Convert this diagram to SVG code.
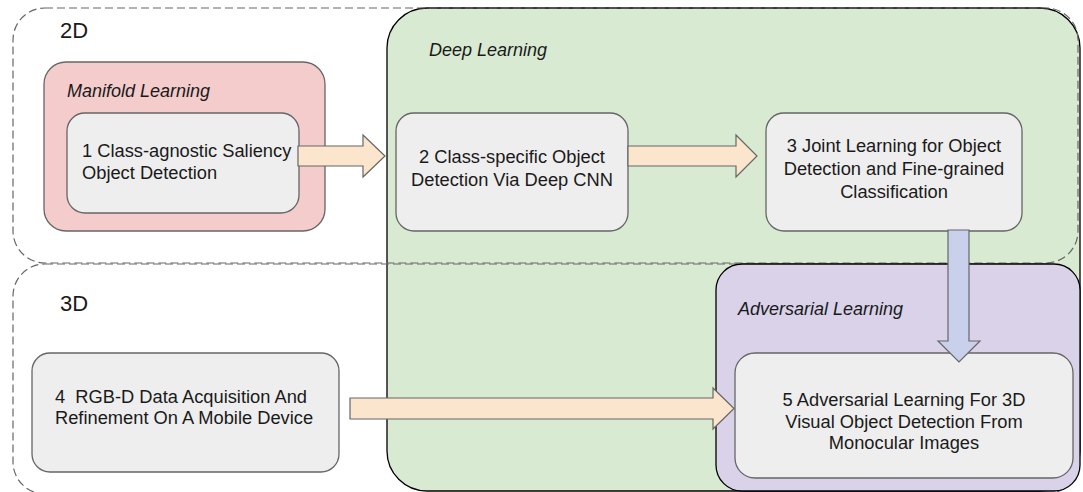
<svg xmlns="http://www.w3.org/2000/svg" width="1083" height="492" viewBox="0 0 1083 492">
  <style>
    .zone { fill: none; stroke: #666666; stroke-width: 1.2; stroke-dasharray: 8 4; }
    .group { stroke: #000000; stroke-width: 1.3; }
    .node { fill: #eeeeee; stroke: #666666; stroke-width: 1.3; }
    .flow { fill: #fce5cd; stroke: #666666; stroke-width: 1.2; }
    .flow-down { fill: #c9d0ec; stroke: #666666; stroke-width: 1.2; }
    text { font-family: "Liberation Sans", Arial, sans-serif; fill: #1a1a1a; }
    .t { font-size: 18.3px; }
    .c { text-anchor: middle; }
    .lbl { font-size: 18px; font-style: italic; }
    .dim { font-size: 22px; }
  </style>

  <!-- Deep Learning region -->
  <g id="deep-learning">
    <rect class="group" x="387" y="8" width="693" height="483" rx="40" fill="#d9ead3"/>
    <text class="lbl" x="429" y="56">Deep Learning</text>
  </g>

  <!-- 2D / 3D dashed zones -->
  <g id="zone-2d">
    <rect class="zone" x="13" y="8" width="1065" height="255" rx="32"/>
    <text class="dim" x="60" y="38">2D</text>
  </g>
  <g id="zone-3d">
    <rect class="zone" x="13" y="264" width="1065" height="230" rx="32"/>
    <text class="dim" x="60" y="311">3D</text>
  </g>

  <!-- Adversarial Learning region -->
  <g id="adversarial-learning">
    <rect class="group" x="716" y="264" width="364" height="227" rx="26" fill="#d9d2e9"/>
    <text class="lbl" x="738" y="315">Adversarial Learning</text>
  </g>

  <!-- Manifold Learning region -->
  <g id="manifold-learning">
    <rect x="44" y="62" width="281" height="169" rx="22" fill="#f4cccc" stroke="#666666" stroke-width="1.3"/>
    <text class="lbl" x="67" y="97">Manifold Learning</text>
  </g>

  <!-- Topic nodes -->
  <g id="node-1">
    <rect class="node" x="67" y="113" width="232" height="100" rx="18"/>
    <text class="t" x="82" y="157">1 Class-agnostic Saliency</text>
    <text class="t" x="82" y="179">Object Detection</text>
  </g>
  <g id="node-2">
    <rect class="node" x="396" y="113" width="232" height="118" rx="18"/>
    <text class="t c" x="512" y="163">2 Class-specific Object</text>
    <text class="t c" x="512" y="186">Detection Via Deep CNN</text>
  </g>
  <g id="node-3">
    <rect class="node" x="766" y="113" width="256" height="118" rx="18"/>
    <text class="t c" x="894" y="152">3 Joint Learning for Object</text>
    <text class="t c" x="894" y="175">Detection and Fine-grained</text>
    <text class="t c" x="894" y="198">Classification</text>
  </g>
  <g id="node-4">
    <rect class="node" x="32" y="353" width="307" height="119" rx="18"/>
    <text class="t" x="55" y="403" xml:space="preserve">4  RGB-D Data Acquisition And</text>
    <text class="t" x="55" y="424">Refinement On A Mobile Device</text>
  </g>
  <g id="node-5">
    <rect class="node" x="735" y="353" width="338" height="125" rx="20"/>
    <text class="t c" x="904" y="406">5 Adversarial Learning For 3D</text>
    <text class="t c" x="904" y="428">Visual Object Detection From</text>
    <text class="t c" x="904" y="449">Monocular Images</text>
  </g>

  <!-- Block arrows between topics -->
  <g id="connectors">
    <polygon class="flow" points="298,146 363,146 363,135 385,156 363,177 363,166 298,166"/>
    <polygon class="flow" points="628,146 736,146 736,135 757,156 736,177 736,166 628,166"/>
    <polygon class="flow-down" points="948,230 969,230 969,341 980,341 959,362 938,341 948,341"/>
    <polygon class="flow" points="350,398 713,398 713,388 734,408.5 713,429 713,419 350,419"/>
  </g>
</svg>
